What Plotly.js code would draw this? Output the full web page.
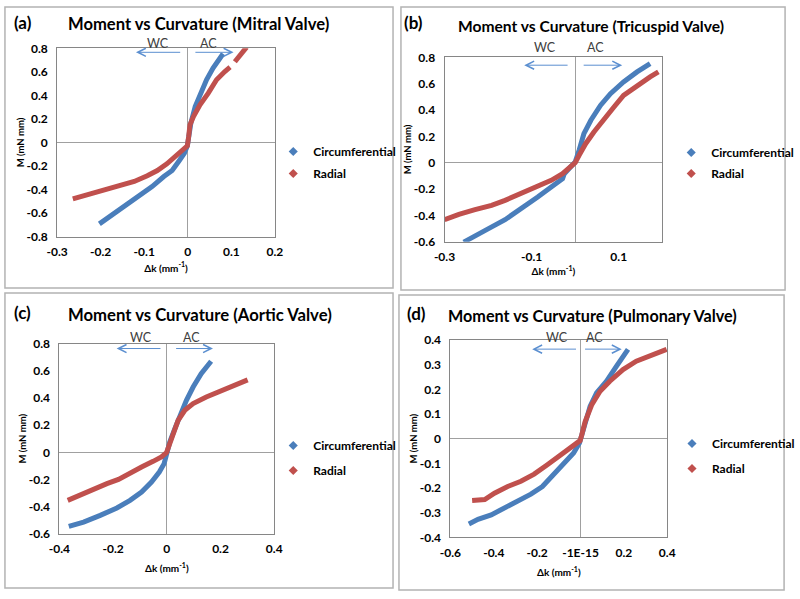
<!DOCTYPE html>
<html>
<head>
<meta charset="utf-8">
<script src="https://cdn.plot.ly/plotly-3.0.1.min.js"></script>
<style>html,body{margin:0;padding:0;background:#fff;}#chart{width:800px;height:599px;}</style>
</head>
<body>
<div id="chart"></div>
<script>
// ---------- DATA ----------
const seriesNames = ["Circumferential", "Radial"];

// (a) Mitral valve
const aCircX = [-0.203,-0.173,-0.142,-0.112,-0.082,-0.055,-0.036,-0.021,-0.008,-0.001,0.002,0.007,0.017,0.028,0.043,0.058,0.081];
const aCircY = [-0.691,-0.615,-0.538,-0.459,-0.374,-0.289,-0.238,-0.161,-0.091,-0.028,0.051,0.164,0.306,0.405,0.533,0.632,0.754];
const aRadX  = [-0.264,-0.230,-0.192,-0.154,-0.123,-0.093,-0.070,-0.048,-0.029,-0.014,-0.001,0.002,0.005,0.013,0.028,0.047,0.066,0.085,0.097,null,0.108,0.119,0.135];
const aRadY  = [-0.479,-0.445,-0.408,-0.368,-0.331,-0.283,-0.238,-0.181,-0.119,-0.062,-0.028,0.051,0.150,0.221,0.320,0.419,0.533,0.603,0.640,null,0.686,0.740,0.810];

// (b) Tricuspid valve
const bCircX = [-0.256,-0.230,-0.199,-0.161,-0.123,-0.086,-0.055,-0.029,-0.025,-0.010,0.000,0.009,0.020,0.036,0.058,0.081,0.111,0.142,0.172];
const bCircY = [-0.603,-0.552,-0.501,-0.433,-0.349,-0.261,-0.185,-0.122,-0.084,-0.038,0.005,0.094,0.220,0.322,0.435,0.524,0.613,0.689,0.752];
const bRadX  = [-0.300,-0.267,-0.230,-0.192,-0.161,-0.123,-0.086,-0.055,-0.029,-0.010,0.000,0.009,0.024,0.043,0.066,0.089,0.111,0.142,0.172,0.191];
const bRadY  = [-0.433,-0.392,-0.357,-0.324,-0.286,-0.230,-0.180,-0.134,-0.084,-0.033,0.000,0.056,0.144,0.233,0.334,0.423,0.511,0.587,0.651,0.689];

// (c) Aortic valve
const cCircX = [-0.365,-0.310,-0.248,-0.186,-0.137,-0.094,-0.057,-0.028,-0.010,-0.001,0.011,0.030,0.048,0.073,0.098,0.128,0.165];
const cCircY = [-0.544,-0.512,-0.463,-0.409,-0.353,-0.292,-0.218,-0.145,-0.083,-0.010,0.076,0.174,0.272,0.382,0.480,0.578,0.670];
const cRadX  = [-0.369,-0.322,-0.273,-0.223,-0.180,-0.137,-0.094,-0.051,-0.020,-0.001,0.009,0.023,0.042,0.067,0.098,0.147,0.196,0.252,0.301];
const cRadY  = [-0.353,-0.311,-0.272,-0.230,-0.199,-0.150,-0.108,-0.066,-0.034,-0.002,0.051,0.150,0.235,0.309,0.358,0.407,0.444,0.493,0.533];

// (d) Pulmonary valve
const dCircX = [-0.515,-0.473,-0.412,-0.351,-0.290,-0.229,-0.176,-0.123,-0.078,-0.032,-0.005,0.006,0.021,0.044,0.074,0.120,0.166,0.219];
const dCircY = [-0.346,-0.327,-0.309,-0.282,-0.255,-0.225,-0.194,-0.146,-0.106,-0.058,-0.018,0.016,0.070,0.131,0.186,0.233,0.294,0.362];
const dRadX  = [-0.500,-0.442,-0.397,-0.336,-0.275,-0.214,-0.153,-0.093,-0.032,-0.002,0.006,0.021,0.052,0.090,0.135,0.196,0.257,0.333,0.397];
const dRadY  = [-0.251,-0.247,-0.221,-0.194,-0.173,-0.144,-0.106,-0.069,-0.031,-0.008,0.016,0.068,0.138,0.192,0.233,0.280,0.314,0.341,0.362];

// Tick values / labels
const aXTicks = [-0.3,-0.2,-0.1,0,0.1,0.2];
const aYTicks = [-0.8,-0.6,-0.4,-0.2,0,0.2,0.4,0.6,0.8];
const bXTicks = [-0.3,-0.1,0.1];
const bYTicks = [-0.6,-0.4,-0.2,0,0.2,0.4,0.6,0.8];
const cXTicks = [-0.4,-0.2,0,0.2,0.4];
const cYTicks = [-0.6,-0.4,-0.2,0,0.2,0.4,0.6,0.8];
const dXTicks = [-0.6,-0.4,-0.2,0,0.2,0.4];
const dXLabels = ["-0.6","-0.4","-0.2","-1E-15","0.2","0.4"];
const dYTicks = [-0.4,-0.3,-0.2,-0.1,0,0.1,0.2,0.3,0.4];

const panelLabels = ["(a)","(b)","(c)","(d)"];
const panelTitles = ["Moment vs Curvature (Mitral Valve)","Moment vs Curvature (Tricuspid Valve)",
                     "Moment vs Curvature (Aortic Valve)","Moment vs Curvature (Pulmonary Valve)"];
const xTitle = "Δk (mm<sup>-1</sup>)";
const yTitle = "M (mN mm)";

// ---------- STYLE ----------
const BLUE = "#4a7ebb", RED = "#c0504d", ARROW = "#5b8fd0";
const FONT = "Lato, 'Open Sans', sans-serif";
const W = 800, H = 599;
const px = v => v / W, py = v => 1 - v / H;

const panels = [
  {cx:aCircX, cy:aCircY, rx:aRadX, ry:aRadY, xt:aXTicks, yt:aYTicks, xl:null, xr:[-0.3,0.2], yr:[-0.8,0.8],
   dom:{x:[57.7,277.7], y:[48.3,236.7]}, box:[5,7,397,288], lbl:[23,23], ttl:[201,24], tsize:16.6,
   leg:[276,137], gap:3, xstand:6, ystand:0,
   wc:[160,43], ac:[211,43], arrowsY:0.766, left:[-0.014,-0.119], right:[0.014,0.105]},
  {cx:bCircX, cy:bCircY, rx:bRadX, ry:bRadY, xt:bXTicks, yt:bYTicks, xl:null, xr:[-0.3,0.2], yr:[-0.6,0.8],
   dom:{x:[449,669], y:[57.3,241.7]}, box:[405,7,793,290], lbl:[418,23], ttl:[597,26], tsize:15.6,
   leg:[678,138], gap:2, xstand:3, ystand:0,
   wc:[550,47], ac:[602,47], arrowsY:0.74, left:[-0.014,-0.117], right:[0.016,0.108]},
  {cx:cCircX, cy:cCircY, rx:cRadX, ry:cRadY, xt:cXTicks, yt:cYTicks, xl:null, xr:[-0.4,0.4], yr:[-0.6,0.8],
   dom:{x:[60,277], y:[343.5,534]}, box:[5,293,397,588], lbl:[23,312], ttl:[202,315], tsize:16.7,
   leg:[276,431], gap:6, xstand:9, ystand:0,
   wc:[142,337], ac:[193,337], arrowsY:0.763, left:[-0.018,-0.187], right:[0.029,0.172]},
  {cx:dCircX, cy:dCircY, rx:dRadX, ry:dRadY, xt:dXTicks, yt:dYTicks, xl:dXLabels, xr:[-0.6,0.4], yr:[-0.4,0.4],
   dom:{x:[455,674], y:[340,537.3]}, box:[403,295,792,590], lbl:[421,313], ttl:[598,315], tsize:16.2,
   leg:[679,429], gap:6, xstand:10, ystand:0,
   wc:[563,337], ac:[600,337], arrowsY:0.363, left:[-0.014,-0.223], right:[0.014,0.19]}
];

const data = [];
const layout = {
  width: W, height: H,
  margin: {l:0, r:0, t:0, b:0},
  paper_bgcolor: "#fff", plot_bgcolor: "#fff",
  font: {family: FONT, color: "#000"},
  showlegend: true,
  annotations: [], shapes: []
};

panels.forEach((p, i) => {
  const n = i === 0 ? "" : String(i + 1);
  const xa = "x" + n, ya = "y" + n;
  const legName = i === 0 ? "legend" : "legend" + (i + 1);

  data.push({x:p.cx, y:p.cy, xaxis:xa, yaxis:ya, mode:"lines", name:seriesNames[0],
             line:{color:BLUE, width:5}, showlegend:false, legendgroup:"c"+i, hoverinfo:"skip"});
  data.push({x:p.rx, y:p.ry, xaxis:xa, yaxis:ya, mode:"lines", name:seriesNames[1],
             line:{color:RED, width:5}, showlegend:false, legendgroup:"r"+i, hoverinfo:"skip", connectgaps:false});
  // legend entries (diamond symbols like the original)
  data.push({x:[null], y:[null], xaxis:xa, yaxis:ya, mode:"markers", name:seriesNames[0],
             marker:{symbol:"diamond", size:7, color:BLUE}, legend:legName, legendgroup:"c"+i});
  data.push({x:[null], y:[null], xaxis:xa, yaxis:ya, mode:"markers", name:seriesNames[1],
             marker:{symbol:"diamond", size:7, color:RED}, legend:legName, legendgroup:"r"+i});

  const tickFont = {family:FONT, size:12, color:"#000", weight:"bold"};
  layout["xaxis" + n] = {
    domain:[px(p.dom.x[0]), px(p.dom.x[1])], anchor:ya, range:p.xr,
    tickvals:p.xt, ticktext:p.xl ? p.xl : p.xt.map(String), ticks:"", ticklabelstandoff:4,
    showgrid:false, zeroline:true, zerolinecolor:"#a0a0a0", zerolinewidth:1,
    showline:true, mirror:true, linecolor:"#868686", linewidth:1,
    tickfont:tickFont, automargin:false, fixedrange:true,
    title:{text:xTitle, font:{family:FONT, size:10, color:"#000", weight:"bold"}, standoff:p.xstand}
  };
  layout["yaxis" + n] = {
    domain:[py(p.dom.y[1]), py(p.dom.y[0])], anchor:xa, range:p.yr,
    tickvals:p.yt, ticktext:p.yt.map(String), ticks:"", ticklabelstandoff:6,
    showgrid:false, zeroline:true, zerolinecolor:"#a0a0a0", zerolinewidth:1,
    showline:true, mirror:true, linecolor:"#868686", linewidth:1,
    tickfont:tickFont, automargin:false, fixedrange:true,
    title:{text:yTitle, font:{family:FONT, size:9.5, color:"#000", weight:"bold"}, standoff:p.ystand}
  };

  layout[legName] = {
    x:px(p.leg[0]), y:py(p.leg[1]), xanchor:"left", yanchor:"top",
    bgcolor:"rgba(0,0,0,0)", font:{family:FONT, size:12, color:"#000", weight:"bold"},
    traceorder:"grouped", tracegroupgap:p.gap
  };

  // outer panel frame
  layout.shapes.push({type:"rect", xref:"paper", yref:"paper",
    x0:px(p.box[0]), x1:px(p.box[2]), y0:py(p.box[3]), y1:py(p.box[1]),
    line:{color:"#b3b3b3", width:1.5}, layer:"below"});

  // panel label & title
  layout.annotations.push({text:"<b>"+panelLabels[i]+"</b>", xref:"paper", yref:"paper",
    x:px(p.lbl[0]), y:py(p.lbl[1]), showarrow:false, xanchor:"center", yanchor:"middle",
    borderpad:0, font:{family:FONT, size:17, color:"#000"}});
  layout.annotations.push({text:"<b>"+panelTitles[i]+"</b>", xref:"paper", yref:"paper",
    x:px(p.ttl[0]), y:py(p.ttl[1]), showarrow:false, xanchor:"center", yanchor:"middle",
    borderpad:0, font:{family:FONT, size:p.tsize, color:"#000"}});
  // WC / AC labels
  layout.annotations.push({text:"WC", xref:"paper", yref:"paper", x:px(p.wc[0]), y:py(p.wc[1]),
    showarrow:false, xanchor:"center", yanchor:"middle", borderpad:0,
    font:{family:FONT, size:12.5, color:"#404040"}});
  layout.annotations.push({text:"AC", xref:"paper", yref:"paper", x:px(p.ac[0]), y:py(p.ac[1]),
    showarrow:false, xanchor:"center", yanchor:"middle", borderpad:0,
    font:{family:FONT, size:12.5, color:"#404040"}});
  // arrows
  [p.left, p.right].forEach(a => {
    layout.annotations.push({xref:xa, yref:ya, axref:xa, ayref:ya,
      x:a[1], y:p.arrowsY, ax:a[0], ay:p.arrowsY, text:"", showarrow:true,
      arrowhead:5, arrowsize:1.6, arrowwidth:1, arrowcolor:ARROW});
  });
});

Plotly.newPlot("chart", data, layout, {staticPlot:true, displayModeBar:false});
</script>
</body>
</html>
